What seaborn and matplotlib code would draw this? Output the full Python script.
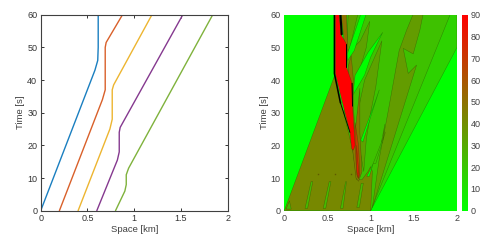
# Trajectories and density contours, space-time plane
import matplotlib
matplotlib.use('Agg')
import matplotlib.pyplot as plt
from matplotlib.colors import LinearSegmentedColormap, Normalize
from matplotlib.cm import ScalarMappable
import numpy as np
import pandas as pd
import seaborn as sns

# ── Vehicle trajectories (space km, time s) ───────────────────
car1_x = [0.0, 0.58, 0.61, 0.615, 0.615]
car1_t = [0, 43, 46, 50, 60]
car2_x = [0.2, 0.66, 0.69, 0.69, 0.70, 0.875]
car2_t = [0, 34, 37, 50, 51.5, 60]
car3_x = [0.4, 0.74, 0.765, 0.765, 0.78, 1.19]
car3_t = [0, 25, 28, 37, 38.5, 60]
car4_x = [0.6, 0.82, 0.84, 0.84, 0.85, 1.52]
car4_t = [0, 15.5, 18, 24, 25.5, 60]
car5_x = [0.8, 0.90, 0.915, 0.915, 0.94, 1.84]
car5_t = [0, 6, 8, 11, 13, 60]
TRAJ = [car1_x, car2_x, car3_x, car4_x, car5_x]
TIMES = [car1_t, car2_t, car3_t, car4_t, car5_t]
TRAJ_COLORS = ['#1a7fc0', '#d9602a', '#edb530', '#85398f', '#7fb23c']

# ── Density regions, painted in this order ────────────────────
fan_light = [(1.0, 0), (2.0, 50), (2.0, 60), (0.7, 60), (0.7, 20), (0.9, 5)]
fan_mid = [(1.0, 0), (1.92, 60), (0.7, 60), (0.7, 20), (0.9, 5)]
band_main = [(1.02, 1), (1.532, 44.6), (1.435, 42), (1.377, 49.7), (1.493, 48), (1.57, 55.3),
             (1.606, 60), (1.49, 60), (1.417, 55.3), (1.33, 49), (1.2, 30), (1.1, 16)]
band_b = [(1.13, 52), (0.93, 40), (0.85, 30), (0.88, 18), (0.92, 12), (0.95, 22), (1.0, 30), (1.06, 38)]
band_c = [(0.99, 58), (0.95, 50), (0.86, 42), (0.80, 36), (0.74, 44), (0.73, 48), (0.88, 52)]
band_d = [(0.74, 60), (0.85, 60), (0.76, 50), (0.72, 48)]
streak = [(1.125, 21), (1.165, 26.5), (1.14, 21)]
sliver_1 = [(0.73, 48), (0.884, 60), (0.946, 60), (0.81, 49), (0.735, 46)]
sliver_2 = [(0.795, 35.4), (0.82, 41.5), (0.97, 48.5), (1.14, 54.6), (1.0, 47), (0.93, 41.5)]
sliver_3 = [(0.885, 21.6), (1.02, 31), (1.10, 37), (0.98, 27), (0.91, 21)]
sliver_4 = [(0.955, 10.5), (1.03, 14.5), (0.985, 10.5)]
streak_4 = [(1.03, 14.5), (1.17, 24), (1.06, 14.5)]
triangle = [(0.0, 0), (0.585, 41.5), (0.76, 22), (0.79, 19), (0.84, 9.5),
            (0.90, 9.5), (0.97, 12), (1.0, 13.5), (1.02, 12), (1.0, 0)]
strip_1 = [(0.24, 0.7), (0.31, 8.9), (0.33, 8.9), (0.27, 0.7)]
strip_2 = [(0.45, 0.7), (0.52, 8.9), (0.54, 8.9), (0.48, 0.7)]
strip_3 = [(0.65, 0.7), (0.71, 8.9), (0.72, 8.9), (0.68, 0.7)]
strip_4 = [(0.84, 1), (0.89, 8.4), (0.915, 8.4), (0.87, 1)]
strip_0 = [(0.02, 0.5), (0.06, 3), (0.08, 0.5)]
shoulder = [(0.66, 60), (0.72, 60), (0.735, 49), (0.70, 50)]
wave_1 = [(0.74, 44), (0.775, 47.5), (0.80, 40), (0.80, 32), (0.82, 24), (0.875, 37.5),
          (0.875, 24), (0.90, 12), (0.86, 9), (0.83, 10), (0.79, 19), (0.76, 30)]
wave_2 = [(0.82, 27), (0.86, 20), (0.875, 11), (0.86, 9.8), (0.84, 11), (0.82, 20)]
wave_3 = [(0.835, 20), (0.865, 11), (0.855, 10), (0.84, 12)]
jam = [(0.59, 60), (0.637, 60), (0.655, 54), (0.72, 51), (0.72, 44), (0.785, 39),
       (0.79, 32), (0.82, 20), (0.80, 18.5), (0.78, 19), (0.76, 24), (0.59, 42)]

REGIONS = [fan_light, fan_mid, band_main, band_b, band_c, band_d, streak, sliver_1, sliver_2,
           sliver_3, triangle, sliver_4, streak_4, strip_0, strip_1, strip_2, strip_3, strip_4,
           shoulder, wave_1, wave_2, wave_3, jam]
DENSITY = [16, 22, 35, 33, 33, 33, 33, 0, 0, 0, 42, 0, 22, 25, 25, 25, 25, 25, 50, 48, 66, 78, 90]

dot_x = [0.386, 0.587, 0.772]
dot_t = [11.3, 11.3, 11.3]

# ── Figure ────────────────────────────────────────────────────
sns.set_style('ticks')
plt.rcParams['font.family'] = ['Liberation Sans', 'DejaVu Sans']

fig = plt.figure(figsize=(5.0, 2.42), dpi=100)
W, H = 500.0, 242.0
ax1 = fig.add_axes([40.7 / W, 1 - 210.7 / H, 187 / W, 196 / H])
ax2 = fig.add_axes([284.3 / W, 1 - 210.7 / H, 172.7 / W, 196 / H])
cax = fig.add_axes([462.3 / W, 1 - 210.7 / H, 5.7 / W, 196 / H])

# ── Left panel ────────────────────────────────────────────────
for i in range(len(TRAJ)):
    df = pd.DataFrame({'x': TRAJ[i], 't': TIMES[i]})
    sns.lineplot(data=df, x='x', y='t', ax=ax1, color=TRAJ_COLORS[i], lw=1.0,
                 sort=False, estimator=None, errorbar=None)

# ── Right panel ───────────────────────────────────────────────
cmap = LinearSegmentedColormap.from_list('gr', ['#00ff00', '#ff0000'])
norm = Normalize(0, 90)
ax2.set_facecolor('#00ff00')
for poly, val in zip(REGIONS, DENSITY):
    xs, ts = zip(*poly)
    ax2.fill(xs, ts, facecolor=cmap(norm(val)), edgecolor=(0.15, 0.2, 0, 0.45), lw=0.35)
ax2.plot(dot_x, dot_t, ls='none', marker='s', ms=1.0, color='#5f5a00', mew=0)
# shock front edge
ax2.plot([0.58, 0.58, 0.65], [60, 42, 33], color='black', lw=1.1)
ax2.plot([0.65, 0.76], [33, 24], color='black', lw=0.6)
ax2.plot([0.65, 0.665], [60, 54], color='black', lw=1.5)
ax2.plot([0.72, 0.72], [51, 44], color='black', lw=0.7)
ax2.plot([0.785, 0.79], [39, 32], color='black', lw=0.7)

sm = ScalarMappable(norm=norm, cmap=cmap)
cb = fig.colorbar(sm, cax=cax)
cb.set_ticks(np.arange(0, 100, 10))
cb.ax.tick_params(length=0, labelsize=6.5, pad=2, colors='#404040')
cb.outline.set_visible(False)

for ax in (ax1, ax2):
    ax.set_xlim(0, 2)
    ax.set_ylim(0, 60)
    ax.set_xticks([0, 0.5, 1, 1.5, 2])
    ax.set_xticklabels(['0', '0.5', '1', '1.5', '2'])
    ax.set_yticks(np.arange(0, 70, 10))
    ax.set_xlabel('Space [km]', fontsize=6.8, labelpad=1.5, color='#404040')
    ax.set_ylabel('Time [s]', fontsize=6.8, labelpad=1.5, color='#404040')

ax1.tick_params(direction='in', length=2, width=0.7, top=True, right=True, labelsize=6.5,
                pad=2.5, colors='#333333')
for s in ax1.spines.values():
    s.set_linewidth(0.8)
    s.set_color('#404040')
ax2.tick_params(length=0, labelsize=6.5, pad=2.5, colors='#404040')
for s in ax2.spines.values():
    s.set_visible(False)

fig.savefig('out.png', dpi=100)
